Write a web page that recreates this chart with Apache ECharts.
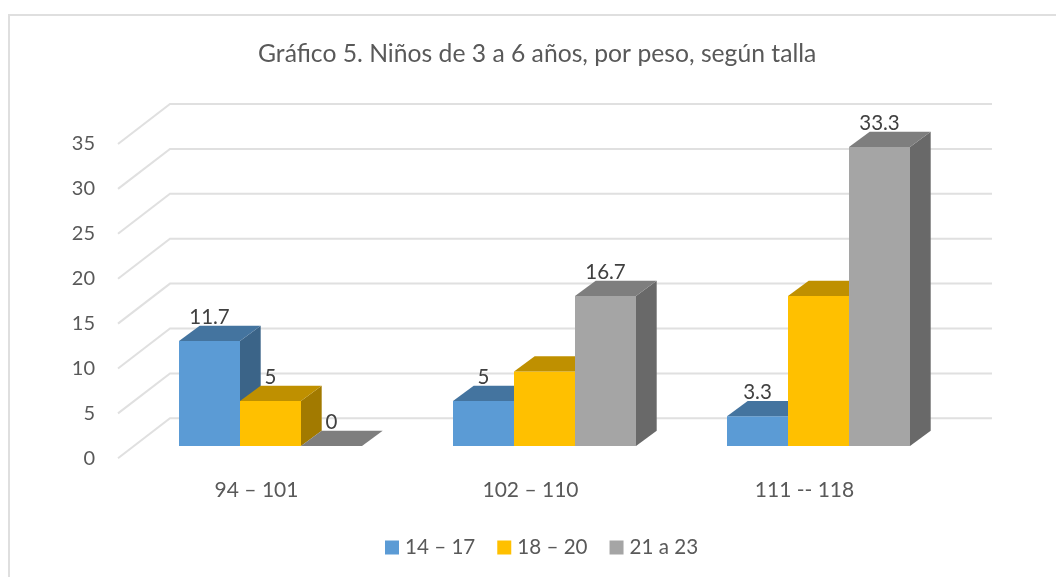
<!DOCTYPE html>
<html><head><meta charset="utf-8">
<style>html,body{margin:0;padding:0;background:#fff}#c{width:1056px;height:577px}</style>
<script src="https://cdn.jsdelivr.net/npm/echarts@6/dist/echarts.min.js"></script>
</head><body><div id="c"></div>
<script>
const titleText = 'Gráfico 5. Niños de 3 a 6 años, por peso, según talla';
const categories = ['94 – 101', '102 – 110', '111 -- 118'];
const seriesNames = ['14 – 17', '18 – 20', '21 a 23'];
const values14 = [11.7, 5, 3.3];
const values18 = [5, 8.3, 16.7];
const values21 = [0, 16.7, 33.3];
const labels14 = ['11.7', '5', '3.3'];
const labels18 = ['5', '', ''];
const labels21 = ['0', '16.7', '33.3'];
const yTicks = [0, 5, 10, 15, 20, 25, 30, 35];

const FONT = 'Lato, sans-serif';
const palette = [
  { front: '#5b9bd5', top: '#44749f', side: '#3b6488' },
  { front: '#ffc000', top: '#bf9000', side: '#a27a00' },
  { front: '#a5a5a5', top: '#7e7e7e', side: '#696969' }
];
const WALL = { dx: 52, dy: -40 };
const FLOOR = { dx: 15.5, dy: -12.3 };
const DEPTH = { dx: 20.7, dy: -15.3 };
const BAR_RATIO = 61 / 274;

function wallItem(params, api) {
  const cs = params.coordSys;
  const p = api.coord([0, api.value(1)]);
  const l = cs.x, y = p[1], r = cs.x + cs.width;
  return {
    type: 'polyline', silent: true,
    shape: { points: [[l, y], [l + WALL.dx, y + WALL.dy], [r + WALL.dx, y + WALL.dy]] },
    style: { stroke: '#e0e0e0', lineWidth: 2, fill: null }
  };
}

function barRenderer(idx, labels) {
  return function (params, api) {
    const cat = api.value(0), val = api.value(1);
    const band = api.size([1, 0])[0];
    const w = band * BAR_RATIO;
    const top = api.coord([cat, val]);
    const base = api.coord([cat, 0]);
    const x0 = top[0] + FLOOR.dx + (idx - 1.5) * w;
    const x1 = x0 + w;
    const yt = top[1] + FLOOR.dy, yb = base[1] + FLOOR.dy;
    const dx = DEPTH.dx, dy = DEPTH.dy;
    const c = palette[idx];
    const kids = [];
    if (yb - yt > 0.5) {
      kids.push({ type: 'polygon', shape: { points: [[x1, yt], [x1 + dx, yt + dy], [x1 + dx, yb + dy], [x1, yb]] }, style: { fill: c.side } });
      kids.push({ type: 'rect', shape: { x: x0, y: yt, width: w, height: yb - yt }, style: { fill: c.front } });
    }
    kids.push({ type: 'polygon', shape: { points: [[x0, yt], [x1, yt], [x1 + dx, yt + dy], [x0 + dx, yt + dy]] }, style: { fill: c.top } });
    const text = labels[cat];
    if (text) {
      kids.push({
        type: 'text', z2: 100,
        style: { text: text, x: x0 + w / 2, y: yt + dy - 8.5, align: 'center', verticalAlign: 'middle',
          fill: '#404040', font: '20.5px ' + FONT }
      });
    }
    return { type: 'group', children: kids };
  };
}

function barSeries(idx, values, labels) {
  return {
    name: seriesNames[idx], type: 'custom', coordinateSystem: 'cartesian2d', z: 3 + idx,
    clip: false, silent: true,
    itemStyle: { color: palette[idx].front },
    encode: { x: 0, y: 1 },
    data: values.map((v, i) => [i, v]),
    renderItem: barRenderer(idx, labels)
  };
}

const chart = echarts.init(document.getElementById('c'));
chart.setOption({
  animation: false,
  backgroundColor: '#fff',
  title: { text: titleText, left: 258, top: 42, padding: 0,
    textStyle: { color: '#595959', fontFamily: FONT, fontSize: 24.7, fontWeight: 'normal' } },
  grid: { left: 118, width: 822, top: 144, height: 314.3 },
  legend: {
    data: seriesNames, left: 385, top: 537, padding: 0, icon: 'rect', itemWidth: 14, itemHeight: 14, itemGap: 22,
    selectedMode: false,
    textStyle: { color: '#595959', fontFamily: FONT, fontSize: 20.6, padding: [0, 0, 0, 1] }
  },
  xAxis: {
    type: 'category', data: categories,
    axisLine: { show: false }, axisTick: { show: false }, splitLine: { show: false },
    axisLabel: { color: '#595959', fontFamily: FONT, fontSize: 21, margin: 21, padding: [0, 0, 0, 3] }
  },
  yAxis: {
    type: 'value', min: 0, max: 35, interval: 5,
    axisLine: { show: false }, axisTick: { show: false }, splitLine: { show: false },
    axisLabel: { color: '#595959', fontFamily: FONT, fontSize: 20, margin: 23, padding: [5, 0, 0, 0] }
  },
  graphic: [{
    type: 'polyline', silent: true, z: 0,
    shape: { points: [[9, 577], [9, 15], [1056, 15]] },
    style: { stroke: '#dfdfdf', lineWidth: 2, fill: null }
  }],
  series: [
    { name: 'walls', type: 'custom', coordinateSystem: 'cartesian2d', z: 1, clip: false, silent: true,
      encode: { x: 0, y: 1 }, data: yTicks.map(t => [0, t]), renderItem: wallItem },
    barSeries(0, values14, labels14),
    barSeries(1, values18, labels18),
    barSeries(2, values21, labels21)
  ]
});
</script></body></html>
